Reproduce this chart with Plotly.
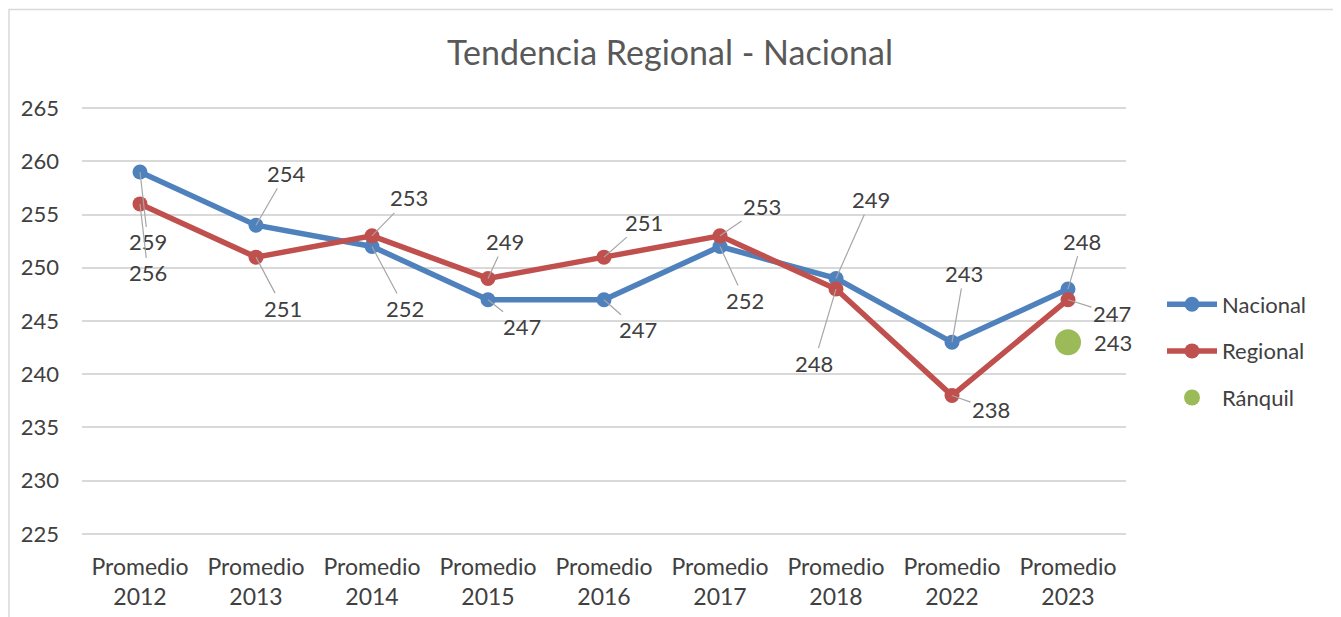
import plotly.graph_objects as go

categories = ["Promedio<br>2012", "Promedio<br>2013", "Promedio<br>2014", "Promedio<br>2015",
              "Promedio<br>2016", "Promedio<br>2017", "Promedio<br>2018", "Promedio<br>2022",
              "Promedio<br>2023"]
nacional = [259, 254, 252, 247, 247, 252, 249, 243, 248]
regional = [256, 251, 253, 249, 251, 253, 248, 238, 247]
ranquil_cat = ["Promedio<br>2023"]
ranquil = [243]
y_ticks = [225, 230, 235, 240, 245, 250, 255, 260, 265]

# label offsets (pixels) relative to each point
nac_off = [(8, 70), (30, -52), (33, 62), (34, 27), (34, 30), (25, 54), (35, -79), (12, -69), (14, -48)]
reg_off = [(8, 69), (27, 51), (37, -38), (17, -37), (40, -35), (42, -29), (-22, 74), (39, 14), (44, 14)]

BLUE = "#4F81BD"
RED = "#C0504D"
GREEN = "#9BBB59"
TXT = "#404040"
FONT = "Lato"

# page body has an 8px margin; figure sized to fit window
W, H = 1333, 609
PL, PT, PR, PB = 82, 106, 1126, 536  # plot area in page pixels
OFF = 8

fig = go.Figure()
fig.add_trace(go.Scatter(x=categories, y=nacional, name="Nacional", mode="lines+markers",
                         line=dict(color=BLUE, width=5.5), marker=dict(size=15, color=BLUE),
                         legendgroup="a"))
fig.add_trace(go.Scatter(x=categories, y=regional, name="Regional", mode="lines+markers",
                         line=dict(color=RED, width=5.5), marker=dict(size=15, color=RED),
                         legendgroup="b"))
fig.add_trace(go.Scatter(x=ranquil_cat, y=ranquil, name="Ránquil", mode="markers",
                         marker=dict(size=26, color=GREEN), legendgroup="c"))

annotations = []
for series, offs in ((nacional, nac_off), (regional, reg_off)):
    for c, v, (dx, dy) in zip(categories, series, offs):
        annotations.append(dict(x=c, y=v, text=str(v), showarrow=True, arrowhead=0,
                                arrowwidth=1.2, arrowcolor="#A6A6A6", ax=dx, ay=dy,
                                standoff=0, startstandoff=0,
                                font=dict(family=FONT, size=22, color=TXT)))
for c, v in zip(ranquil_cat, ranquil):
    annotations.append(dict(x=c, y=v, text=str(v), showarrow=False, xshift=45,
                            font=dict(family=FONT, size=22, color=TXT)))

pw, ph = PR - PL, PB - PT
fig.update_layout(
    width=W, height=H,
    paper_bgcolor="white", plot_bgcolor="white",
    margin=dict(l=PL - OFF, r=W - (PR - OFF), t=PT - OFF, b=H - (PB - OFF), autoexpand=False),
    title=dict(text="Tendencia Regional - Nacional", x=(670 - PL) / pw, xref="paper",
               xanchor="center", y=(H - (53 - OFF)) / H, yanchor="middle",
               font=dict(family=FONT, size=34, color="#595959")),
    font=dict(family=FONT, size=22, color=TXT),
    showlegend=True,
    legend=dict(x=(1162 - PL) / pw, xanchor="left", y=(PB - 351) / ph, yanchor="middle",
                font=dict(family=FONT, size=22, color=TXT), tracegroupgap=15,
                itemsizing="trace", itemwidth=50),
    annotations=annotations,
    shapes=[dict(type="rect", xref="paper", yref="paper",
                 x0=(9 - PL) / pw, x1=(1335 - PL) / pw,
                 y0=(PB - 640) / ph, y1=(PB - 9.5) / ph,
                 line=dict(color="#D9D9D9", width=1.5), layer="below")],
)
fig.update_xaxes(range=[-0.5, len(categories) - 0.5], showgrid=False, showline=False, ticks="",
                 tickfont=dict(family=FONT, size=23, color=TXT), ticklabelstandoff=15)
fig.update_yaxes(range=[224.8, 265.2], tickvals=y_ticks,
                 showgrid=True, gridcolor="#D9D9D9", gridwidth=1.5,
                 zeroline=False, showline=False, ticks="", ticklabelstandoff=22,
                 tickfont=dict(family=FONT, size=22, color=TXT))

fig.write_html("out.html")
